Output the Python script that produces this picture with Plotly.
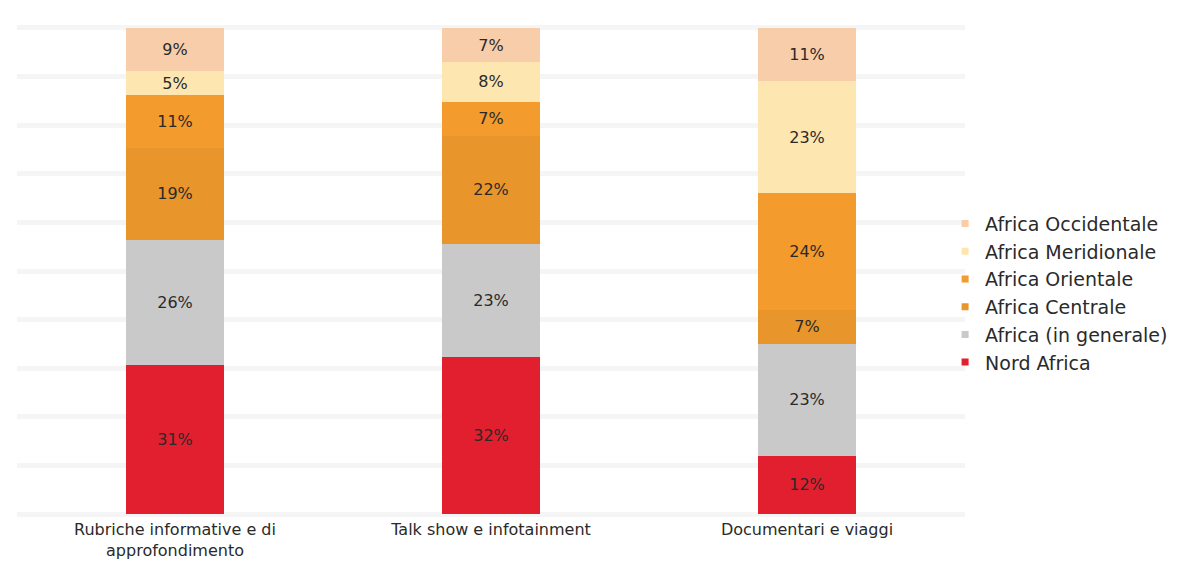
import plotly.graph_objects as go

# Programme genres (x categories)
categories = [
    "Rubriche informative e di<br>approfondimento",
    "Talk show e infotainment",
    "Documentari e viaggi",
]

# Share of coverage by African region, bottom to top of each stack (%)
nord_africa = [31, 32, 12]
africa_generale = [26, 23, 23]
africa_centrale = [19, 22, 7]
africa_orientale = [11, 7, 24]
africa_meridionale = [5, 8, 23]
africa_occidentale = [9, 7, 11]

series = [
    ("Nord Africa", nord_africa, "#E21F2E"),
    ("Africa (in generale)", africa_generale, "#C9C9C9"),
    ("Africa Centrale", africa_centrale, "#E8952C"),
    ("Africa Orientale", africa_orientale, "#F49B2D"),
    ("Africa Meridionale", africa_meridionale, "#FDE6B0"),
    ("Africa Occidentale", africa_occidentale, "#F8CDAA"),
]

FONT = "DejaVu Sans"
TEXT_COLOR = "#2a2a2a"

fig = go.Figure()

for name, values, color in series:
    fig.add_trace(go.Bar(
        x=categories,
        y=values,
        name=name,
        marker=dict(color=color, line=dict(width=0)),
        text=[f"{v}%" for v in values],
        textposition="inside",
        insidetextanchor="middle",
        constraintext="none",
        textangle=0,
        textfont=dict(family=FONT, size=16, color=TEXT_COLOR),
        showlegend=False,
        hoverinfo="skip",
    ))

# Legend entries with small square swatches, top entry = top of stack
for name, values, color in reversed(series):
    fig.add_trace(go.Scatter(
        x=[None], y=[None],
        mode="markers",
        name=name,
        legendgroup=name,
        marker=dict(symbol="square", size=7, color=color),
        showlegend=True,
    ))

fig.update_layout(
    width=1182,
    height=562,
    margin=dict(l=17, r=217, t=24, b=44, autoexpand=False),
    barmode="stack",
    barnorm="percent",
    bargap=0.69,
    plot_bgcolor="white",
    paper_bgcolor="white",
    font=dict(family=FONT, color=TEXT_COLOR),
    legend=dict(
        x=0.979, xanchor="left",
        y=0.455, yanchor="middle",
        traceorder="normal",
        tracegroupgap=12,
        font=dict(family=FONT, size=19, color=TEXT_COLOR),
        bgcolor="rgba(0,0,0,0)",
        itemwidth=30,
    ),
)

fig.update_xaxes(
    automargin=False,
    showgrid=False,
    showline=False,
    zeroline=False,
    ticks="",
    ticklen=0,
    ticklabelstandoff=0,
    tickfont=dict(family=FONT, size=16, color=TEXT_COLOR),
)

fig.update_yaxes(
    automargin=False,
    range=[-0.8, 100.8],
    tickvals=[0, 10, 20, 30, 40, 50, 60, 70, 80, 90, 100],
    showgrid=True,
    gridcolor="#F5F5F5",
    gridwidth=5,
    showticklabels=False,
    zeroline=False,
    showline=False,
)

fig.write_html("out.html")
